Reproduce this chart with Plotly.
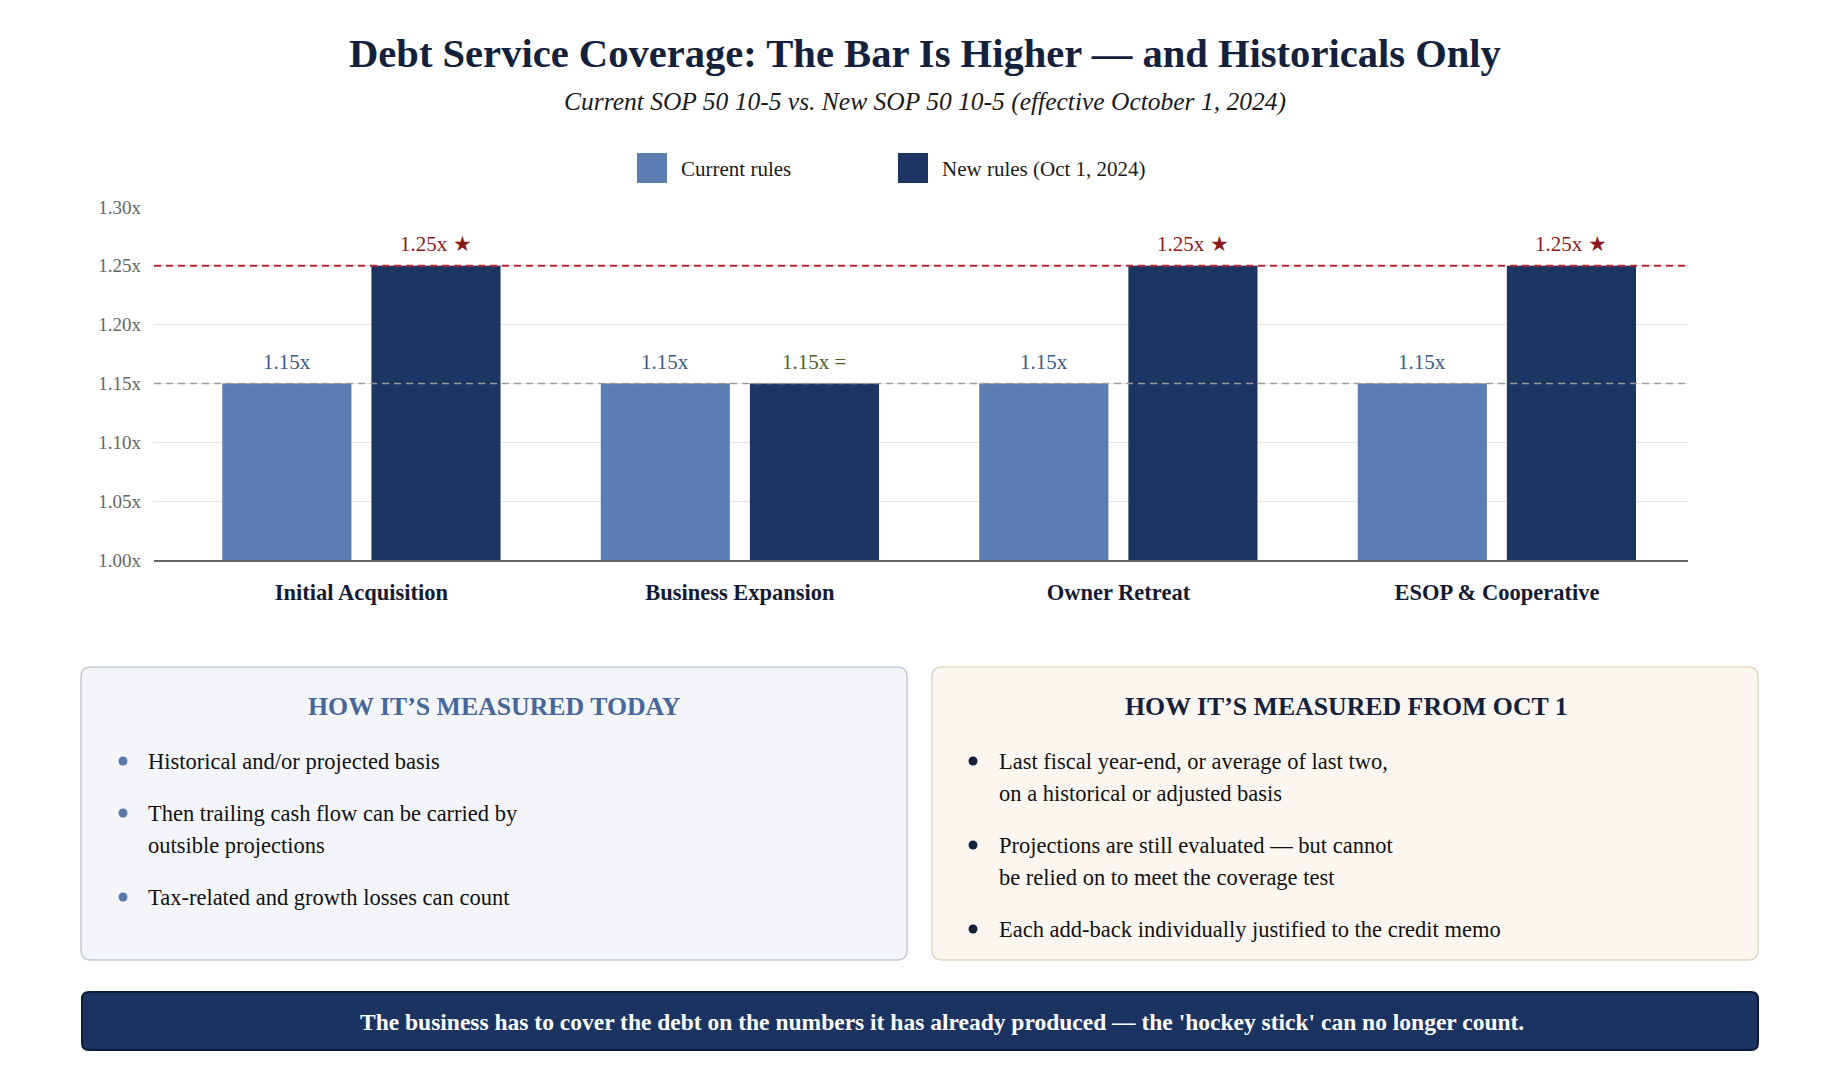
import plotly.graph_objects as go

# ---------------- data ----------------
categories = ["Initial Acquisition", "Business Expansion", "Owner Retreat", "ESOP & Cooperative"]
current_rules = [1.15, 1.15, 1.15, 1.15]
new_rules = [1.25, 1.15, 1.25, 1.25]
current_labels = ["1.15x", "1.15x", "1.15x", "1.15x"]
new_labels = ["1.25x ★", "1.15x =", "1.25x ★", "1.25x ★"]
new_label_colors = ["#8b1a1a", "#4f6228", "#8b1a1a", "#8b1a1a"]
y_ticks = [1.00, 1.05, 1.10, 1.15, 1.20, 1.25, 1.30]
threshold_new = 1.25
threshold_current = 1.15

left_title = "HOW IT’S MEASURED TODAY"
left_bullets = [
    ["Historical and/or projected basis"],
    ["Then trailing cash flow can be carried by", "outsible projections"],
    ["Tax-related and growth losses can count"],
]
right_title = "HOW IT’S MEASURED FROM OCT 1"
right_bullets = [
    ["Last fiscal year-end, or average of last two,", "on a historical or adjusted basis"],
    ["Projections are still evaluated — but cannot", "be relied on to meet the coverage test"],
    ["Each add-back individually justified to the credit memo"],
]
banner_text = ("The business has to cover the debt on the numbers it has already produced — "
               "the 'hockey stick' can no longer count.")

# ---------------- layout helpers ----------------
FONT = "Liberation Serif, Times New Roman, serif"
LIGHT = "#5b7db1"
DARK = "#1c3563"
NAVY = "#14213d"

OFF = 8
W, H = 1824, 1056
ML, MR, MT, MB = 146, 144, 199, 504
PW = W - ML - MR
PH = H - MT - MB
XR = [-0.548, 3.505]
BARGAP = 0.212
GROUPGAP = 0.134


def xp(P):
    return ((P - OFF) - ML) / PW


def yp(P):
    return ((H - MB) - (P - OFF)) / PH


def rrect(l, t, r, b, rad):
    pts = [
        f"M{xp(l + rad)},{yp(t)}",
        f"L{xp(r - rad)},{yp(t)}",
        f"Q{xp(r)},{yp(t)} {xp(r)},{yp(t + rad)}",
        f"L{xp(r)},{yp(b - rad)}",
        f"Q{xp(r)},{yp(b)} {xp(r - rad)},{yp(b)}",
        f"L{xp(l + rad)},{yp(b)}",
        f"Q{xp(l)},{yp(b)} {xp(l)},{yp(b - rad)}",
        f"L{xp(l)},{yp(t + rad)}",
        f"Q{xp(l)},{yp(t)} {xp(l + rad)},{yp(t)}",
        "Z",
    ]
    return " ".join(pts)


fig = go.Figure()
fig.add_trace(go.Bar(name="Current rules", x=categories, y=current_rules,
                     marker=dict(color=LIGHT, line=dict(width=0)), showlegend=False,
                     hoverinfo="skip"))
fig.add_trace(go.Bar(name="New rules (Oct 1, 2024)", x=categories, y=new_rules,
                     marker=dict(color=DARK, line=dict(width=0)), showlegend=False,
                     hoverinfo="skip"))

annotations = []
shapes = []

# bar value labels
px_per_unit = PW / (XR[1] - XR[0])
slot = (1 - BARGAP) / 2
shift = slot / 2 * px_per_unit
for c, v, t in zip(categories, current_rules, current_labels):
    annotations.append(dict(x=c, y=v, xref="x", yref="y", text=t, showarrow=False,
                            xshift=-shift, yshift=22, yanchor="middle",
                            font=dict(family=FONT, size=21, color="#3d5a8a")))
for c, v, t, col in zip(categories, new_rules, new_labels, new_label_colors):
    annotations.append(dict(x=c, y=v, xref="x", yref="y", text=t, showarrow=False,
                            xshift=shift, yshift=22, yanchor="middle",
                            font=dict(family=FONT, size=21, color=col)))

# threshold lines
shapes.append(dict(type="line", xref="paper", yref="y", x0=0, x1=1,
                   y0=threshold_new, y1=threshold_new,
                   line=dict(color="#b0283a", width=2, dash="7px,5px"), layer="above"))
shapes.append(dict(type="line", xref="paper", yref="y", x0=0, x1=1,
                   y0=threshold_current, y1=threshold_current,
                   line=dict(color="#9a9a9a", width=1.6, dash="7px,5px"), layer="above"))

# title + subtitle
annotations.append(dict(x=xp(925), y=yp(53), xref="paper", yref="paper", showarrow=False,
                        text="<b>Debt Service Coverage: The Bar Is Higher — and Historicals Only</b>",
                        xanchor="center", yanchor="middle",
                        font=dict(family=FONT, size=40.6, color=NAVY)))
annotations.append(dict(x=xp(925), y=yp(101), xref="paper", yref="paper", showarrow=False,
                        text="<i>Current SOP 50 10-5 vs. New SOP 50 10-5 (effective October 1, 2024)</i>",
                        xanchor="center", yanchor="middle",
                        font=dict(family=FONT, size=25.5, color="#1a1a1a")))

# custom legend
for (l, r, txt_x, col, name) in [(637, 667, 679, LIGHT, "Current rules"),
                                  (898, 928, 940, DARK, "New rules (Oct 1, 2024)")]:
    shapes.append(dict(type="rect", xref="paper", yref="paper", x0=xp(l), x1=xp(r),
                       y0=yp(183), y1=yp(153), fillcolor=col, line=dict(width=0), layer="above"))
    annotations.append(dict(x=xp(txt_x), y=yp(169), xref="paper", yref="paper", showarrow=False,
                            text=name, xanchor="left", yanchor="middle",
                            font=dict(family=FONT, size=21, color="#1a1a1a")))

# panels
shapes.append(dict(type="path", xref="paper", yref="paper", path=rrect(81, 667, 907, 960, 10),
                   fillcolor="#f3f5f9", line=dict(color="#c5ccd8", width=1.5), layer="below"))
shapes.append(dict(type="path", xref="paper", yref="paper", path=rrect(932, 667, 1758, 960, 10),
                   fillcolor="#fcf6f0", line=dict(color="#e2d6c6", width=1.5), layer="below"))
annotations.append(dict(x=xp(494), y=yp(706), xref="paper", yref="paper", showarrow=False,
                        text="<b>" + left_title + "</b>", xanchor="center", yanchor="middle",
                        font=dict(family=FONT, size=25.8, color="#46679a")))
annotations.append(dict(x=xp(1346), y=yp(706), xref="paper", yref="paper", showarrow=False,
                        text="<b>" + right_title + "</b>", xanchor="center", yanchor="middle",
                        font=dict(family=FONT, size=25.8, color=NAVY)))


def add_bullets(items, dot_x, text_x, first_lines_y, dot_color):
    for lines, ys in zip(items, first_lines_y):
        shapes.append(dict(type="circle", xref="paper", yref="paper",
                           x0=xp(dot_x - 4.5), x1=xp(dot_x + 4.5),
                           y0=yp(ys[0] + 4.5), y1=yp(ys[0] - 4.5),
                           fillcolor=dot_color, line=dict(width=0), layer="above"))
        for line, yy in zip(lines, ys):
            annotations.append(dict(x=xp(text_x), y=yp(yy), xref="paper", yref="paper",
                                    showarrow=False, text=line, xanchor="left", yanchor="middle",
                                    font=dict(family=FONT, size=22.5, color="#111111")))


add_bullets(left_bullets, 123, 146, [[761], [813, 845], [897]], "#5a78a6")
add_bullets(right_bullets, 973, 997, [[761, 793], [845, 877], [929]], NAVY)

# banner
shapes.append(dict(type="path", xref="paper", yref="paper", path=rrect(82, 992, 1758, 1050, 7),
                   fillcolor="#1b3361", line=dict(color="#0e1c3a", width=2), layer="below"))
annotations.append(dict(x=xp(942), y=yp(1022), xref="paper", yref="paper", showarrow=False,
                        text="<b>" + banner_text + "</b>", xanchor="center", yanchor="middle",
                        font=dict(family=FONT, size=23.5, color="#ffffff")))

fig.update_layout(
    width=W, height=H,
    margin=dict(l=ML, r=MR, t=MT, b=MB, autoexpand=False),
    paper_bgcolor="#ffffff", plot_bgcolor="#ffffff",
    barmode="group", bargap=BARGAP, bargroupgap=GROUPGAP,
    font=dict(family=FONT),
    shapes=shapes, annotations=annotations,
    showlegend=False,
)
fig.update_xaxes(range=XR, showgrid=False, showline=True, linecolor="#666666", linewidth=1.5,
                 ticks="", ticklabelstandoff=11,
                 tickfont=dict(family=FONT, size=22.5, color="#141a33"),
                 tickprefix="<b>", ticksuffix="</b>", fixedrange=True)
fig.update_yaxes(range=[1.0, 1.3], tickvals=y_ticks, ticktext=[f"{v:.2f}x" for v in y_ticks],
                 showgrid=True, gridcolor="#e4e4e4", gridwidth=1, zeroline=False,
                 ticks="", ticklabelstandoff=12,
                 tickfont=dict(family=FONT, size=19, color="#666666"), fixedrange=True)

fig.write_html("out.html")
